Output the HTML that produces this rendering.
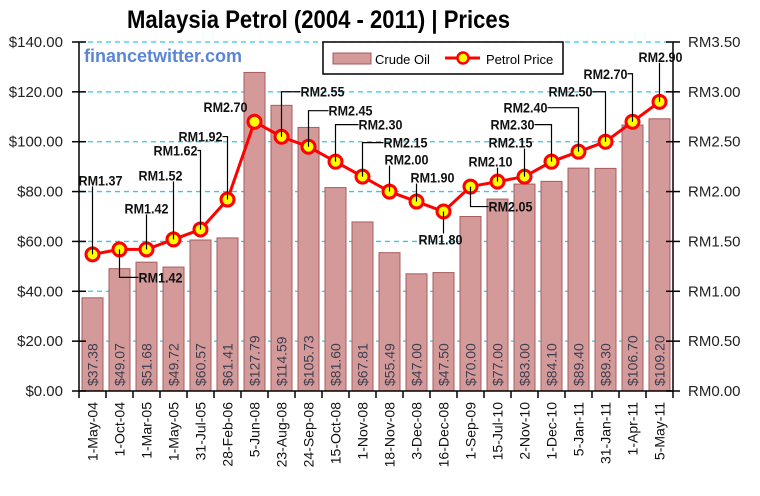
<!DOCTYPE html>
<html><head><meta charset="utf-8"><style>
body{margin:0;background:#fff;}
svg{display:block;font-family:"Liberation Sans",Arial,sans-serif;}
</style></head><body>
<svg id="chart" width="760" height="496" viewBox="0 0 760 496" xmlns="http://www.w3.org/2000/svg">
<text x="127" y="28" font-size="25" font-weight="bold" textLength="383" lengthAdjust="spacingAndGlyphs">Malaysia Petrol  (2004 - 2011) | Prices</text>
<text x="84" y="62" font-size="18" font-weight="bold" fill="#5b86d6">financetwitter.com</text>
<g id="grid"></g><g id="bars"></g><g id="axes"></g><g id="line"></g><g id="labels"></g>
<g>
<rect x="323" y="42" width="240" height="32" fill="#fff" stroke="#000" stroke-width="1.5"/>
<rect x="333" y="53" width="38" height="11" fill="#d49a9a" stroke="#a05858"/>
<text x="375" y="64" font-size="13">Crude Oil</text>
<line x1="445" y1="58" x2="480" y2="58" stroke="#f00" stroke-width="3"/>
<circle cx="463" cy="58" r="5.5" fill="#ff0" stroke="#f00" stroke-width="2.5"/>
<text x="486" y="64" font-size="13">Petrol Price</text>
</g>
</svg>
<script>
const categories=["1-May-04","1-Oct-04","1-Mar-05","1-May-05","31-Jul-05","28-Feb-06","5-Jun-08","23-Aug-08","24-Sep-08","15-Oct-08","1-Nov-08","18-Nov-08","3-Dec-08","16-Dec-08","1-Sep-09","15-Jul-10","2-Nov-10","1-Dec-10","5-Jan-11","31-Jan-11","1-Apr-11","5-May-11"];
const crudeOil=[37.38,49.07,51.68,49.72,60.57,61.41,127.79,114.59,105.73,81.60,67.81,55.49,47.00,47.50,70.00,77.00,83.00,84.10,89.40,89.30,106.70,109.20];
const petrolPrice=[1.37,1.42,1.42,1.52,1.62,1.92,2.70,2.55,2.45,2.30,2.15,2.00,1.90,1.80,2.05,2.10,2.15,2.30,2.40,2.50,2.70,2.90];
const leftTicks=[0,20,40,60,80,100,120,140];
const rightTicks=[0,0.5,1,1.5,2,2.5,3,3.5];
// label offsets relative to point (layout only)
const labelOffsets=[[8,-74],[41,28],[0,-41],[-13,-64],[-25,-79],[-27,-63],[-29,-15],[41,-45],[42,-36],[45,-37],[43,-34],[17,-32],[16,-24],[-3,28],[40,20],[-7,-20],[-14,-34],[-39,-37],[-53,-44],[-35,-50],[-27,-48],[1,-45]];
const NS="http://www.w3.org/2000/svg";
const X0=79,X1=673,Y0=391,Y1=42,cw=(X1-X0)/categories.length;
const xc=i=>X0+cw*(i+0.5);
const yL=v=>Y0-(v/140)*(Y0-Y1);
const yR=v=>Y0-(v/3.5)*(Y0-Y1);
function mk(tag,attrs,parent,text){const e=document.createElementNS(NS,tag);for(const k in attrs)e.setAttribute(k,attrs[k]);if(text!==undefined)e.textContent=text;parent.appendChild(e);return e;}
const grid=document.getElementById('grid'),bars=document.getElementById('bars'),axes=document.getElementById('axes'),line=document.getElementById('line'),labels=document.getElementById('labels');
leftTicks.forEach((v,i)=>{
  if(v>0){const g=mk('line',{x1:X0,x2:X1,y1:yL(v),y2:yL(v),stroke:'#30c8ec','stroke-width':1.3,'stroke-dasharray':'5,4'},grid);
  
  }
  mk('line',{x1:X0-7,x2:X0+7,y1:yL(v),y2:yL(v),stroke:'#000','stroke-width':1.5},axes);
  const t=mk('text',{x:63,y:yL(v)+5,'text-anchor':'end','font-size':15,fill:'#222'},axes,'$'+v.toFixed(2));
  
  
});
rightTicks.forEach(v=>{
  mk('line',{x1:X1-7,x2:X1+7,y1:yR(v),y2:yR(v),stroke:'#000','stroke-width':1.5},axes);
  const t=mk('text',{x:688,y:yR(v)+5,'font-size':15,fill:'#222'},axes,'RM'+v.toFixed(2));
  
  
});
mk('line',{x1:X0,x2:X0,y1:Y1,y2:Y0,stroke:'#000','stroke-width':1.5},axes);
mk('line',{x1:X1,x2:X1,y1:Y1,y2:Y0,stroke:'#000','stroke-width':1.5},axes);
mk('line',{x1:X0,x2:X1,y1:Y0,y2:Y0,stroke:'#000','stroke-width':1.5},axes);
categories.forEach((c,i)=>{
  mk('line',{x1:X0+cw*i,x2:X0+cw*i,y1:Y0,y2:Y0+7,stroke:'#000','stroke-width':1.5},axes);
  const t=mk('text',{transform:`translate(${xc(i)+5},402) rotate(-90)`,'text-anchor':'end','font-size':14,fill:'#111'},axes,c);
  
  
});
mk('line',{x1:X1,x2:X1,y1:Y0,y2:Y0+7,stroke:'#000','stroke-width':1.5},axes);
crudeOil.forEach((v,i)=>{
  const b=mk('rect',{x:xc(i)-10.5,y:yL(v),width:21,height:Y0-yL(v),fill:'#d49a9a',stroke:'#a85c5c','stroke-width':1},bars);
  
  
  const t=mk('text',{transform:`translate(${xc(i)+5},386) rotate(-90)`,'font-size':14,fill:'#3e3e50'},bars,'$'+v.toFixed(2));
  
  
});
mk('polyline',{points:petrolPrice.map((v,i)=>xc(i)+','+yR(v)).join(' '),fill:'none',stroke:'#f00','stroke-width':3},line);
petrolPrice.forEach((v,i)=>{
  const px=xc(i),py=yR(v),o=labelOffsets[i],lx=px+o[0],ly=py+o[1];
  const w=44;
  let pts;
  if(Math.abs(o[0])>18){const ex=o[0]>0?lx-w/2:lx+w/2;pts=`${px},${py} ${px},${ly} ${ex},${ly}`;}
  else pts=`${px},${py} ${px},${ly+(o[1]<0?6:-6)}`;
  if(i!==6) mk('polyline',{points:pts,fill:'none',stroke:'#000','stroke-width':1.2},labels);
  const t=mk('text',{x:lx,y:ly+5,'text-anchor':'middle','font-size':14,'font-weight':'bold',fill:'#111',textLength:w,lengthAdjust:'spacingAndGlyphs'},labels,'RM'+v.toFixed(2));
  
  
});
petrolPrice.forEach((v,i)=>{
  const c=mk('circle',{cx:xc(i),cy:yR(v),r:6.5,fill:'#ff0',stroke:'#f00','stroke-width':3},line);
  
  
});
</script>
</body></html>
